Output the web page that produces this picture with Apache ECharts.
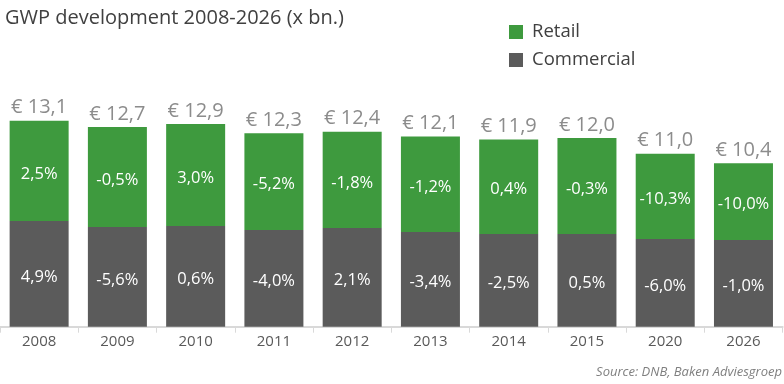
<!DOCTYPE html>
<html>
<head>
<meta charset="utf-8">
<script src="https://cdn.jsdelivr.net/npm/echarts@6/dist/echarts.min.js"></script>
<style>html,body{margin:0;padding:0;background:#fff;}#c{width:784px;height:384px;}</style>
</head>
<body>
<div id="c"></div>
<script>
const years = ['2008','2009','2010','2011','2012','2013','2014','2015','2020','2026'];
const totals = [13.1, 12.7, 12.9, 12.3, 12.4, 12.1, 11.9, 12.0, 11.0, 10.4];
const commercial = [6.72, 6.34, 6.41, 6.15, 6.28, 6.02, 5.90, 5.90, 5.58, 5.52];
const retail = [6.38, 6.36, 6.49, 6.15, 6.12, 6.08, 6.00, 6.10, 5.42, 4.88];
const retailGrowth = ['2,5%','-0,5%','3,0%','-5,2%','-1,8%','-1,2%','0,4%','-0,3%','-10,3%','-10,0%'];
const commercialGrowth = ['4,9%','-5,6%','0,6%','-4,0%','2,1%','-3,4%','-2,5%','0,5%','-6,0%','-1,0%'];
const totalLabels = ['€ 13,1','€ 12,7','€ 12,9','€ 12,3','€ 12,4','€ 12,1','€ 11,9','€ 12,0','€ 11,0','€ 10,4'];

const FONT = '"Open Sans", "Noto Sans", sans-serif';
const chart = echarts.init(document.getElementById('c'), null, {renderer: 'canvas'});
chart.setOption({
  animation: false,
  backgroundColor: '#ffffff',
  title: {
    text: 'GWP development 2008-2026 (x bn.)',
    left: 5, top: 8, padding: 0,
    textStyle: {fontFamily: FONT, fontSize: 20, fontWeight: 'normal', color: '#404040'}
  },
  legend: {
    orient: 'vertical',
    left: 509, top: 22, padding: 0,
    itemWidth: 14, itemHeight: 14, itemGap: 8,
    icon: 'rect',
    textStyle: {fontFamily: FONT, fontSize: 18.5, lineHeight: 20, color: '#404040', padding: [0,0,0,4]},
    data: ['Retail', 'Commercial']
  },
  graphic: [{
    type: 'text', right: 2, top: 366,
    style: {text: 'Source: DNB, Baken Adviesgroep', fontFamily: FONT, fontSize: 13, fontStyle: 'italic', fill: '#7f7f7f'}
  }],
  grid: {left: 0, right: 1.4, top: 106.6, bottom: 57.3, containLabel: false},
  xAxis: {
    type: 'category', data: years,
    axisLine: {lineStyle: {color: '#d9d9d9', width: 2}},
    axisTick: {show: true, length: 6, lineStyle: {color: '#d9d9d9'}},
    axisLabel: {fontFamily: FONT, fontSize: 15, color: '#595959', margin: 8}
  },
  yAxis: {type: 'value', min: 0, max: 14, show: false, splitLine: {show: false}},
  series: [
    {
      name: 'Commercial', type: 'bar', stack: 'a', barWidth: 59,
      data: commercial,
      itemStyle: {color: '#5b5b5b'},
      label: {show: true, position: 'inside', offset: [0, 3], fontFamily: FONT, fontSize: 16.5, color: '#ffffff',
        formatter: p => commercialGrowth[p.dataIndex]}
    },
    {
      name: 'Retail', type: 'bar', stack: 'a', barWidth: 59,
      data: retail,
      itemStyle: {color: '#3e9a3e'},
      label: {show: true, position: 'inside', offset: [0, 3], fontFamily: FONT, fontSize: 16.5, color: '#ffffff',
        formatter: p => retailGrowth[p.dataIndex]}
    },
    {
      name: 'Total', type: 'bar', stack: 'a', barWidth: 59,
      data: totals.map(() => 0), silent: true,
      itemStyle: {color: 'transparent'},
      label: {show: true, position: 'top', distance: 3, fontFamily: FONT, fontSize: 20, color: '#8c8c8c',
        formatter: p => totalLabels[p.dataIndex]}
    }
  ]
});
</script>
</body>
</html>
